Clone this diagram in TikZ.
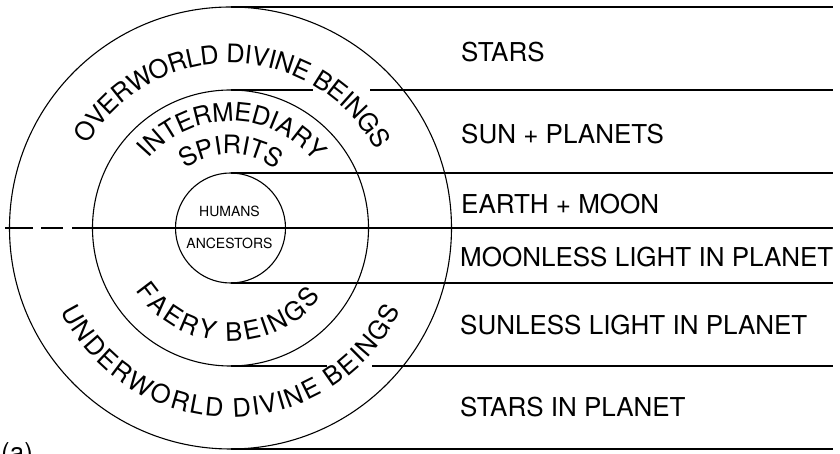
\documentclass[tikz,border=0pt]{standalone}
\usepackage{fontspec}
\setmainfont{TeX Gyre Heros}
\usetikzlibrary{decorations.text}
\newcommand\rtfont{\fontsize{26}{30}\selectfont}
\newcommand\arcfont{\fontsize{25.5}{30}\selectfont}
\newcommand\smallfont{\fontsize{14}{16}\selectfont}
\begin{document}
\begin{tikzpicture}[x=1pt,y=1pt,
  ring/.style={circle,draw,line width=1.1pt,inner sep=0pt,outer sep=0pt},
  rule/.style={line width=1.1pt},
  lab/.style={anchor=base west,inner sep=0pt,font=\rtfont},
  small/.style={anchor=base,inner sep=0pt,font=\smallfont},
  curved/.style={decorate,decoration={text along path,raise=-9.1pt,text align=fit to path,text={#1}}}
]
\useasboundingbox (0,0) rectangle (840,454);
\coordinate (C) at (230.5,226);
\node[ring,minimum size=442pt] (outer) at (C) {};
\node[ring,minimum size=276pt] (mid) at (C) {};
\node[ring,minimum size=110pt] (inner) at (C) {};

% right ends and breaks
\coordinate (e1) at (833,447);
\coordinate (b2) at (313,364);
\coordinate (c2) at (370,364);
\coordinate (e2) at (833,364);
\coordinate (e3) at (833,281);
\coordinate (d0) at (5,226);
\coordinate (e4) at (833,226);
\coordinate (e5) at (833,171);
\coordinate (b6) at (327,88);
\coordinate (c6) at (372,88);
\coordinate (e6) at (833,88);
\coordinate (e7) at (833,5);

\draw[rule] (outer.north) -- (e1);
\draw[rule] (mid.north) -- (b2);
\draw[rule] (c2) -- (e2);
\draw[rule] (inner.north) -- (e3);
\draw[rule,dash pattern=on 28pt off 8pt on 22pt off 9pt on 21pt off 0pt] (d0) -- (mid.west);
\draw[rule] (mid.west) -- (e4);
\draw[rule] (inner.south) -- (e5);
\draw[rule] (mid.south) -- (b6);
\draw[rule] (c6) -- (e6);
\draw[rule] (outer.south) -- (e7);

% right labels
\node[lab] (t1) at (461,392.3) {STARS};
\node[lab] (t2) at (461,310.7) {SUN + PLANETS};
\node[lab] (t3) at (461,240.7) {EARTH + MOON};
\node[lab] (t4) at (460,187.3) {MOONLESS LIGHT IN PLANET};
\node[lab] (t5) at (460,119) {SUNLESS LIGHT IN PLANET};
\node[lab] (t6) at (460,37.3) {STARS IN PLANET};

% inner labels
\node[small] (hum) at (229.5,237.3) {HUMANS};
\node[small] (anc) at (229.5,205.7) {ANCESTORS};

% curved texts (paths run at mid-letter height)
\path[curved={|\arcfont|OVERWORLD DIVINE BEINGS},shift={(C)}] (149.6:174) arc[start angle=149.6,end angle=28.4,radius=174];
\path[curved={|\arcfont|INTERMEDIARY},shift={(C)}] (139.6:116) arc[start angle=139.6,end angle=38.4,radius=116];
\path[curved={|\arcfont|SPIRITS},shift={(C)}] (126.2:83) arc[start angle=126.2,end angle=52.6,radius=83];
\path[curved={|\arcfont|FAERY BEINGS},shift={(C)}] (213:104.5) arc[start angle=213,end angle=323,radius=104.5];
\path[curved={|\arcfont|UNDERWORLD DIVINE BEINGS},shift={(C)}] (205.9:180) arc[start angle=205.9,end angle=334.4,radius=180];

% caption, cut by the page edge
\node[anchor=base west,inner sep=0pt,font=\rtfont] (alab) at (1,-8) {(a)};
\end{tikzpicture}
\end{document}
